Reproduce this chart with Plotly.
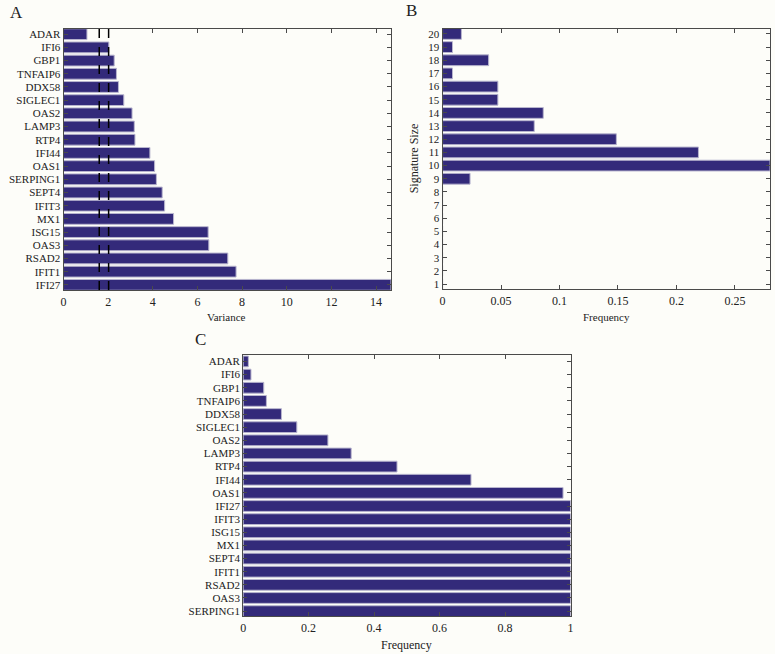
import plotly.graph_objects as go

# ---------------- data ----------------
genes_a = ["ADAR", "IFI6", "GBP1", "TNFAIP6", "DDX58", "SIGLEC1", "OAS2", "LAMP3", "RTP4", "IFI44",
           "OAS1", "SERPING1", "SEPT4", "IFIT3", "MX1", "ISG15", "OAS3", "RSAD2", "IFIT1", "IFI27"]
variance_a = [1.05, 2.03, 2.27, 2.37, 2.46, 2.70, 3.07, 3.17, 3.20, 3.87,
              4.08, 4.16, 4.42, 4.53, 4.93, 6.48, 6.51, 7.36, 7.73, 14.67]
thresholds_a = [1.6, 2.02]

sizes_b = [20, 19, 18, 17, 16, 15, 14, 13, 12, 11, 10, 9, 8, 7, 6, 5, 4, 3, 2, 1]
freq_b = [0.0161, 0.0085, 0.0394, 0.0085, 0.0473, 0.0473, 0.0861, 0.0784, 0.1486, 0.2188,
          0.28, 0.0235, 0, 0, 0, 0, 0, 0, 0, 0]

genes_c = ["ADAR", "IFI6", "GBP1", "TNFAIP6", "DDX58", "SIGLEC1", "OAS2", "LAMP3", "RTP4", "IFI44",
           "OAS1", "IFI27", "IFIT3", "ISG15", "MX1", "SEPT4", "IFIT1", "RSAD2", "OAS3", "SERPING1"]
freq_c = [0.016, 0.024, 0.063, 0.071, 0.117, 0.164, 0.259, 0.330, 0.470, 0.696,
          0.977, 1, 1, 1, 1, 1, 1, 1, 1, 1]

xticks_a = [0, 2, 4, 6, 8, 10, 12, 14]
xticks_b = [0, 0.05, 0.1, 0.15, 0.2, 0.25]
xticks_c = [0, 0.2, 0.4, 0.6, 0.8, 1]

# ---------------- style ----------------
W, H = 775, 654
BAR = "#332a7a"
EDGE = "#b9b6cf"
BG = "#fdfdf9"
AX = "#4a4a4a"
FONT = "Liberation Serif"
TXT = "#222222"


def fx(p):
    return p / W


def fy(p):
    return 1 - p / H


fig = go.Figure()

fig.add_trace(go.Bar(x=variance_a, y=genes_a, orientation="h", width=0.82,
                     marker=dict(color=BAR, line=dict(color=EDGE, width=1)),
                     xaxis="x", yaxis="y", hoverinfo="skip"))
fig.add_trace(go.Bar(x=freq_b, y=sizes_b, orientation="h", width=0.82,
                     marker=dict(color=BAR, line=dict(color=EDGE, width=1)),
                     xaxis="x2", yaxis="y2", hoverinfo="skip"))
fig.add_trace(go.Bar(x=freq_c, y=genes_c, orientation="h", width=0.82,
                     marker=dict(color=BAR, line=dict(color=EDGE, width=1)),
                     xaxis="x3", yaxis="y3", hoverinfo="skip"))

for t in thresholds_a:
    fig.add_shape(type="line", xref="x", yref="y domain", x0=t, x1=t, y0=0, y1=1,
                  line=dict(color="black", width=1.5, dash="dash"), layer="above")

common = dict(showline=True, mirror="ticks", linecolor=AX, linewidth=1,
              ticks="inside", ticklen=4, tickcolor=AX, showgrid=False, zeroline=False,
              tickfont=dict(family=FONT, size=11, color=TXT))
xcommon = dict(common, tickfont=dict(family=FONT, size=12, color=TXT))

fig.update_layout(
    width=W, height=H, showlegend=False,
    margin=dict(l=0, r=0, t=0, b=0),
    paper_bgcolor=BG, plot_bgcolor=BG,
    font=dict(family=FONT, color=TXT),
    bargap=0.18,
    xaxis=dict(domain=[fx(61), fx(391)], anchor="y", range=[0, 14.67],
               tickmode="array", tickvals=xticks_a, **xcommon),
    yaxis=dict(domain=[fy(290), fy(28)], anchor="x", type="category",
               categoryorder="array", categoryarray=genes_a,
               range=[19.4, -0.4], **common),
    xaxis2=dict(domain=[fx(443), fx(773)], anchor="y2", range=[0, 0.28],
                tickmode="array", tickvals=xticks_b,
                ticktext=["0", "0.05", "0.1", "0.15", "0.2", "0.25"], **xcommon),
    yaxis2=dict(domain=[fy(289), fy(28)], anchor="x2", range=[0.62, 20.38],
                tickmode="array", tickvals=sizes_b, **common),
    xaxis3=dict(domain=[fx(242), fx(572)], anchor="y3", range=[0, 1],
                tickmode="array", tickvals=xticks_c,
                ticktext=["0", "0.2", "0.4", "0.6", "0.8", "1"], **xcommon),
    yaxis3=dict(domain=[fy(617), fy(355)], anchor="x3", type="category",
                categoryorder="array", categoryarray=genes_c,
                range=[19.38, -0.5], **common),
)

ann = [
    dict(text="A", x=fx(14), y=fy(12), size=17),
    dict(text="B", x=fx(412), y=fy(10), size=17),
    dict(text="C", x=fx(199), y=fy(340), size=17),
    dict(text="Variance", x=fx(225), y=fy(317), size=11),
    dict(text="Frequency", x=fx(608), y=fy(317), size=11),
    dict(text="Frequency", x=fx(407), y=fy(646), size=12),
]
for a in ann:
    fig.add_annotation(text=a["text"], x=a["x"], y=a["y"], xref="paper", yref="paper",
                       showarrow=False, xanchor="center", yanchor="middle",
                       font=dict(family=FONT, size=a["size"], color=TXT))
fig.add_annotation(text="Signature Size", x=fx(414), y=fy(158), xref="paper", yref="paper",
                   showarrow=False, textangle=-90, xanchor="center", yanchor="middle",
                   font=dict(family=FONT, size=12, color=TXT))

fig.write_html("out.html",
               config={"displayModeBar": False, "staticPlot": True},
               post_script="document.body.style.margin='0';document.body.style.padding='0';"
                           "document.body.style.overflow='hidden';")
